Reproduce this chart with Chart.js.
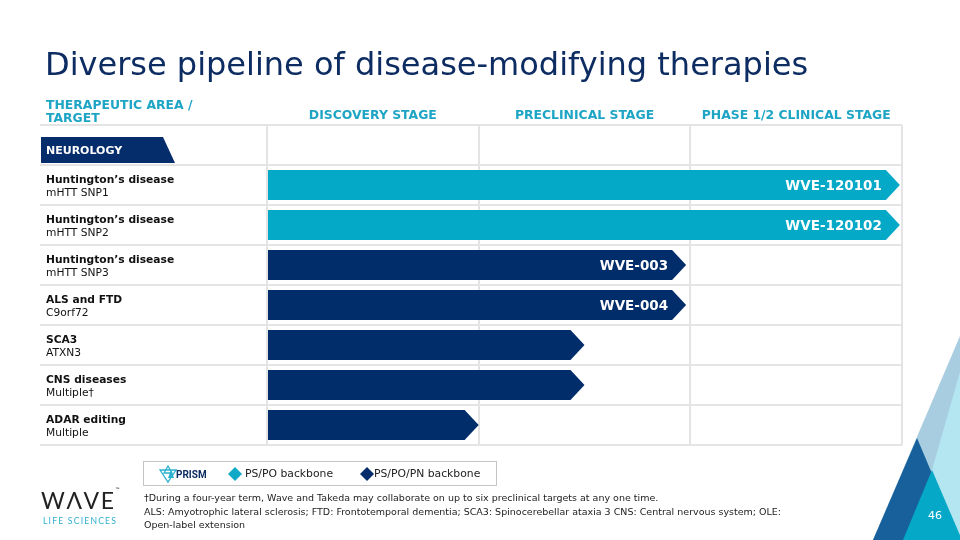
<!DOCTYPE html>
<html>
<head>
<meta charset="utf-8">
<script src="https://cdn.jsdelivr.net/npm/chart.js@4.4.1/dist/chart.umd.min.js"></script>
<style>
  html, body { margin: 0; padding: 0; background: #fff; }
  body { width: 960px; height: 540px; position: relative; overflow: hidden; font-family: "DejaVu Sans", Verdana, sans-serif; }
  #chart { position: absolute; left: 0; top: 0; }
  .abs { position: absolute; white-space: nowrap; }
  #title { left: 45px; top: 45px; font-size: 32px; color: #0d2d62; }
  #areaHead { left: 46px; top: 98px; font-size: 12.4px; font-weight: bold; color: #1ea5c5; line-height: 13px; }
  #legendBox { left: 143px; top: 461px; width: 354px; height: 25px; border: 1.5px solid #c4c4c4; box-sizing: border-box; }
  .legTxt { font-size: 10.8px; color: #222; top: 467px; }
  #notes { left: 144px; top: 491px; font-size: 9.5px; color: #222; line-height: 13.5px; }
  #wave { left: 41px; top: 486px; font-family: Lato, "Open Sans", sans-serif; font-weight: 400; font-size: 23px; color: #222; letter-spacing: 1.6px; }
  #life { left: 43px; top: 516px; font-family: Lato, "Open Sans", sans-serif; font-size: 8.6px; color: #2fb0cf; letter-spacing: 1.2px; }
  #page { left: 928px; top: 509px; font-size: 11px; color: #fff; }
</style>
</head>
<body>
<svg class="abs" style="left:0;top:0" width="960" height="540">
  <polygon points="960,336 873,540 960,540" fill="#a9cde0"/>
  <polygon points="960,372 932,470 960,540" fill="#b3e6f1"/>
  <polygon points="917,438 873,540 960,540" fill="#17609c"/>
  <polygon points="932,470 903,540 962,540" fill="#05a8c6"/>
</svg>
<canvas id="chart" width="960" height="540"></canvas>
<div id="title" class="abs">Diverse pipeline of disease-modifying therapies</div>
<div id="areaHead" class="abs">THERAPEUTIC AREA /<br>TARGET</div>
<div id="legendBox" class="abs"></div>
<svg class="abs" style="left:158px;top:464px" width="48" height="20">
  <polygon points="2,6 10,18 18,6" fill="none" stroke="#2ab0d0" stroke-width="1.3"/>
  <polygon points="6,9 10,2 14,9" fill="none" stroke="#2ab0d0" stroke-width="1.3"/>
  <polygon points="10,14 13,6 16,14" fill="#2ab0d0"/>
  <text x="18" y="14" font-family="Roboto, sans-serif" font-size="10" font-weight="bold" fill="#0d2d62">PRISM</text>
</svg>
<svg class="abs" style="left:228px;top:467px" width="14" height="14"><polygon points="7,0 14,7 7,14 0,7" fill="#10a9c8"/></svg>
<div class="abs legTxt" style="left:245px">PS/PO backbone</div>
<svg class="abs" style="left:360px;top:467px" width="14" height="14"><polygon points="7,0 14,7 7,14 0,7" fill="#062d6b"/></svg>
<div class="abs legTxt" style="left:374px">PS/PO/PN backbone</div>
<div id="notes" class="abs">†During a four-year term, Wave and Takeda may collaborate on up to six preclinical targets at any one time.<br>ALS: Amyotrophic lateral sclerosis; FTD: Frontotemporal dementia; SCA3: Spinocerebellar ataxia 3 CNS: Central nervous system; OLE:<br>Open-label extension</div>
<div id="wave" class="abs">WΛVE<span style="font-size:5px;vertical-align:top;letter-spacing:0">™</span></div>
<div id="life" class="abs">LIFE SCIENCES</div>
<div id="page" class="abs">46</div>

<script>
// rows of the pipeline table (first row is the therapeutic area header)
const areaNames = ['NEUROLOGY', 'Huntington’s disease', 'Huntington’s disease', 'Huntington’s disease', 'ALS and FTD', 'SCA3', 'CNS diseases', 'ADAR editing'];
const targets = ['', 'mHTT SNP1', 'mHTT SNP2', 'mHTT SNP3', 'C9orf72', 'ATXN3', 'Multiple†', 'Multiple'];
const stages = ['DISCOVERY STAGE', 'PRECLINICAL STAGE', 'PHASE 1/2 CLINICAL STAGE'];
// how far each program has progressed, in stage units (0 = start of discovery, 3 = end of phase 1/2)
const progress = [null, 2.99, 2.99, 1.98, 1.98, 1.5, 1.5, 1];
const programs = ['', 'WVE-120101', 'WVE-120102', 'WVE-003', 'WVE-004', '', '', ''];
const backbones = ['', 'PS/PO', 'PS/PO', 'PS/PO/PN', 'PS/PO/PN', 'PS/PO/PN', 'PS/PO/PN', 'PS/PO/PN'];

const FONT = '"DejaVu Sans", Verdana, sans-serif';
const backboneColors = { 'PS/PO': '#04a9c7', 'PS/PO/PN': '#022d6b' };
const tipLen = 14;

const pipelinePlugin = {
    id: 'pipeline',
    beforeDatasetDraw() {
        return false; // bars are drawn as arrows below
    },
    afterDatasetsDraw(chart) {
        const ctx = chart.ctx;
        const yScale = chart.scales.y;

        // row labels in the left column
        ctx.save();
        areaNames.forEach((name, i) => {
            const cy = yScale.getPixelForValue(i);
            if (i === 0) {
                ctx.fillStyle = '#062d6b';
                ctx.beginPath();
                ctx.moveTo(41, cy - 8);
                ctx.lineTo(163, cy - 8);
                ctx.lineTo(175, cy + 18);
                ctx.lineTo(41, cy + 18);
                ctx.closePath();
                ctx.fill();
                ctx.fillStyle = '#fff';
                ctx.font = 'bold 11px ' + FONT;
                ctx.textBaseline = 'alphabetic';
                ctx.fillText(name, 46, cy + 8.5);
                return;
            }
            ctx.fillStyle = '#111';
            ctx.textBaseline = 'alphabetic';
            ctx.font = 'bold 10.7px ' + FONT;
            ctx.fillText(name, 46, cy - 2);
            ctx.font = '10.7px ' + FONT;
            ctx.fillText(targets[i], 46, cy + 11);
        });

        // arrows
        const meta = chart.getDatasetMeta(0);
        meta.data.forEach((bar, i) => {
            if (progress[i] == null) return;
            const p = bar.getProps(['x', 'y', 'base', 'height'], true);
            const top = p.y - p.height / 2;
            const bottom = p.y + p.height / 2;
            ctx.fillStyle = backboneColors[backbones[i]];
            ctx.beginPath();
            ctx.moveTo(p.base, top);
            ctx.lineTo(p.x - tipLen, top);
            ctx.lineTo(p.x, p.y);
            ctx.lineTo(p.x - tipLen, bottom);
            ctx.lineTo(p.base, bottom);
            ctx.closePath();
            ctx.fill();
            if (programs[i]) {
                ctx.fillStyle = '#fff';
                ctx.font = 'bold 13.5px ' + FONT;
                ctx.textAlign = 'right';
                ctx.textBaseline = 'middle';
                ctx.fillText(programs[i], p.x - tipLen - 4, p.y + 1);
                ctx.textAlign = 'left';
            }
        });
        ctx.restore();
    }
};

new Chart(document.getElementById('chart'), {
    type: 'bar',
    data: {
        labels: areaNames,
        datasets: [{
            data: progress.map(v => (v == null ? null : [0, v])),
            backgroundColor: backbones.map(b => backboneColors[b] || 'transparent'),
            barThickness: 30
        }]
    },
    options: {
        indexAxis: 'y',
        responsive: false,
        animation: false,
        layout: { padding: { left: 40, right: 58, top: 90, bottom: 95 } },
        plugins: { legend: { display: false }, tooltip: { enabled: false } },
        scales: {
            x: {
                type: 'linear',
                min: 0,
                max: 3,
                position: 'bottom',
                ticks: { display: false, stepSize: 1 },
                grid: { color: '#e4e4e4', lineWidth: 2, drawTicks: false },
                border: { display: false },
                afterFit(s) { s.height = 0; }
            },
            x2: {
                type: 'category',
                labels: stages,
                offset: true,
                position: 'top',
                grid: { display: false, drawTicks: false, offset: true },
                border: { display: false },
                ticks: { color: '#1ea5c5', font: { family: FONT, size: 12.4, weight: 'bold' }, padding: 2, maxRotation: 0, autoSkip: false },
                afterFit(s) { s.height = 35; s.paddingLeft = 0; s.paddingRight = 0; }
            },
            y: {
                type: 'category',
                ticks: { display: false },
                grid: { color: '#e4e4e4', lineWidth: 2, drawTicks: true, tickLength: 227 },
                border: { display: false },
                afterFit(s) { s.width = 227; }
            }
        }
    },
    plugins: [pipelinePlugin]
});
</script>
</body>
</html>
